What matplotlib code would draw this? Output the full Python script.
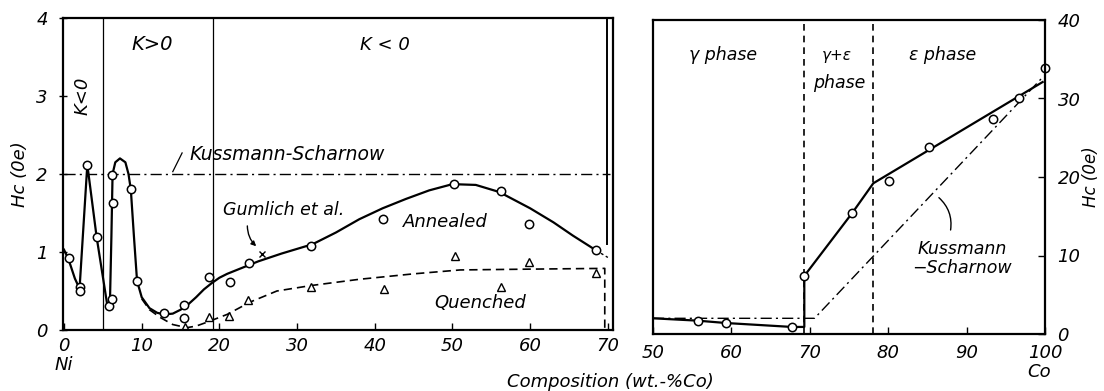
import matplotlib
matplotlib.use("Agg")
import matplotlib.pyplot as plt
from matplotlib.patches import FancyArrowPatch

# ---------------- data: left panel (Ni-Co, 0-70 wt.% Co) ----------------
annealed_co = [0.65, 2.05, 2.05, 3.0, 4.2, 5.8, 6.2, 6.2, 6.3, 8.6, 9.4, 12.9,
               15.5, 15.5, 18.7, 21.4, 23.8, 31.8, 41.1, 50.2, 56.2, 59.8, 68.5]
annealed_hc = [0.92, 0.55, 0.50, 2.12, 1.19, 0.31, 0.40, 1.99, 1.63, 1.81, 0.63, 0.22,
               0.32, 0.15, 0.68, 0.62, 0.86, 1.08, 1.42, 1.87, 1.78, 1.36, 1.02]

quenched_co = [15.6, 18.7, 21.3, 23.7, 31.8, 41.2, 50.3, 56.3, 59.8, 68.5]
quenched_hc = [0.04, 0.17, 0.18, 0.38, 0.55, 0.52, 0.95, 0.55, 0.87, 0.73]

gumlich_co = [25.5]
gumlich_hc = [0.98]

annealed_curve_co = [0.0, 0.6, 1.4, 2.0, 3.0, 4.2, 5.6, 5.9, 6.1, 6.25, 6.6, 7.2,
                     7.9, 8.3, 8.6, 9.0, 9.4, 10.0, 11.0, 12.0, 13.0, 14.0, 15.0,
                     16.0, 17.0, 18.0, 19.0, 20.0, 21.0, 22.0, 25.0, 28.0, 32.0,
                     35.0, 38.0, 41.0, 44.0, 47.0, 50.0, 53.0, 56.0, 60.0, 63.0,
                     65.5, 68.5]
annealed_curve_hc = [1.03, 0.9, 0.66, 0.53, 2.12, 1.19, 0.3, 0.3, 1.2, 2.0, 2.15, 2.2,
                     2.15, 2.0, 1.8, 1.2, 0.63, 0.42, 0.28, 0.22, 0.20, 0.21, 0.26,
                     0.33, 0.42, 0.52, 0.60, 0.67, 0.72, 0.76, 0.88, 0.98, 1.10,
                     1.25, 1.42, 1.56, 1.68, 1.79, 1.87, 1.86, 1.77, 1.56, 1.38,
                     1.21, 1.02]
annealed_tail_co = [68.5, 70.0]
annealed_tail_hc = [1.02, 0.93]

quenched_curve_co = [10.0, 11.0, 12.4, 14.0, 15.8, 17.0, 18.4, 21.0, 24.0, 27.4,
                     31.8, 38.0, 45.0, 51.0, 59.6, 69.6, 69.6]
quenched_curve_hc = [0.40, 0.26, 0.16, 0.07, 0.03, 0.05, 0.10, 0.20, 0.36, 0.50,
                     0.57, 0.65, 0.72, 0.77, 0.78, 0.79, 0.0]

ks_left_co = [0.0, 70.3]
ks_left_hc = [2.0, 2.0]

region_lines_left = [5.05, 19.15]
phase_edge_left = 69.9

# ---------------- data: right panel (50-100 wt.% Co) ----------------
right_co = [55.7, 59.3, 67.7, 69.3, 75.4, 80.1, 85.2, 93.4, 96.7, 100.0]
right_hc = [1.7, 1.4, 0.9, 7.4, 15.4, 19.5, 23.8, 27.4, 30.0, 33.9]

right_curve_co = [50.0, 55.7, 59.3, 67.7, 69.3, 69.3, 75.4, 78.1, 99.7]
right_curve_hc = [2.0, 1.7, 1.4, 0.9, 0.9, 7.4, 15.4, 19.2, 32.1]

ks_right_co = [50.0, 70.6, 99.6]
ks_right_hc = [2.0, 2.0, 32.6]

phase_bounds_right = [69.3, 78.1]

left_xticks = [0, 10, 20, 30, 40, 50, 60, 70]
left_yticks = [0, 1, 2, 3, 4]
right_xticks = [50, 60, 70, 80, 90, 100]
right_yticks = [0, 10, 20, 30, 40]

# ---------------- drawing ----------------
plt.rcParams["font.family"] = ["DejaVu Sans"]
plt.rcParams["font.style"] = "italic"

W, H = 1104, 391
fig = plt.figure(figsize=(W / 100, H / 100), dpi=100)


def box(x0, y0, x1, y1):
    return [x0 / W, 1 - y1 / H, (x1 - x0) / W, (y1 - y0) / H]


axL = fig.add_axes(box(63, 18, 613, 330))
axR = fig.add_axes(box(653, 20, 1045, 334))

LW = 1.6
TXT = dict(style="italic", color="black")

# left panel
axL.set_xlim(-0.13, 70.66)
axL.set_ylim(0, 4)
for x in region_lines_left:
    axL.axvline(x, color="black", lw=0.9)
axL.plot([phase_edge_left, phase_edge_left], [1.1, 4.0], color="black", lw=1.4)
axL.plot(ks_left_co, ks_left_hc, color="black", lw=1.0, dashes=(8, 3, 1.5, 3))
axL.plot(annealed_curve_co, annealed_curve_hc, color="black", lw=LW)
axL.plot(annealed_tail_co, annealed_tail_hc, color="black", lw=1.0, dashes=(2, 2))
axL.plot(quenched_curve_co, quenched_curve_hc, color="black", lw=1.2, dashes=(5, 3))
axL.plot(annealed_co, annealed_hc, "o", ms=6, mfc="white", mec="black", mew=1.1)
axL.plot(quenched_co, quenched_hc, "^", ms=6, mfc="white", mec="black", mew=1.0)
axL.plot(gumlich_co, gumlich_hc, "x", ms=4, color="black", mew=1.0)

axL.text(2.4, 3.0, "K<0", rotation=90, fontsize=13, ha="center", va="center", **TXT)
axL.text(11.4, 3.66, "K>0", fontsize=14, ha="center", va="center", **TXT)
axL.text(41.3, 3.66, "K < 0", fontsize=13, ha="center", va="center", **TXT)
axL.text(16.2, 2.25, "Kussmann-Scharnow", fontsize=13.5, ha="left", va="center", **TXT)
axL.plot([14.0, 15.2], [2.03, 2.27], color="black", lw=0.9)
axL.text(20.5, 1.54, "Gumlich et al.", fontsize=12.5, ha="left", va="center", **TXT)
axL.add_patch(FancyArrowPatch((23.6, 1.37), (25.0, 1.05),
                              connectionstyle="arc3,rad=0.25", arrowstyle="-|>",
                              mutation_scale=7, color="black", lw=1.0))
axL.text(43.6, 1.38, "Annealed", fontsize=13, ha="left", va="center", **TXT)
axL.text(47.6, 0.35, "Quenched", fontsize=13, ha="left", va="center", **TXT)
axL.text(0.0, -0.45, "Ni", fontsize=13, ha="center", va="center", clip_on=False, **TXT)

axL.set_xticks(left_xticks)
axL.set_yticks(left_yticks)
axL.tick_params(axis="x", direction="in", length=5, width=1.0, pad=5, labelsize=13)
axL.tick_params(axis="y", direction="inout", length=6, width=1.0, pad=8, labelsize=13)
axL.set_ylabel("Hc (0e)", fontsize=13, labelpad=5, **TXT)

# right panel
axR.set_xlim(50, 100)
axR.set_ylim(0, 40)
for x in phase_bounds_right:
    axR.axvline(x, color="black", lw=1.2, dashes=(4, 3))
axR.plot(ks_right_co, ks_right_hc, color="black", lw=1.0, dashes=(8, 3, 1.5, 3))
axR.plot(right_curve_co, right_curve_hc, color="black", lw=LW)
axR.plot(right_co, right_hc, "o", ms=6, mfc="white", mec="black", mew=1.1, clip_on=False)

axR.text(59.0, 35.6, "γ phase", fontsize=12.5, ha="center", va="center", **TXT)
axR.text(73.5, 35.5, "γ+ε", fontsize=11, ha="center", va="center", **TXT)
axR.text(73.7, 32.0, "phase", fontsize=12.5, ha="center", va="center", **TXT)
axR.text(87.0, 35.6, "ε phase", fontsize=12.5, ha="center", va="center", **TXT)
axR.text(89.4, 9.6, "Kussmann\n−Scharnow", fontsize=12.5, ha="center", va="center",
         linespacing=1.05, **TXT)
axR.add_patch(FancyArrowPatch((87.9, 12.9), (86.2, 17.6),
                              connectionstyle="arc3,rad=0.3", arrowstyle="-",
                              color="black", lw=1.0))
axR.text(99.3, -4.8, "Co", fontsize=13, ha="center", va="center", clip_on=False, **TXT)

axR.set_xticks(right_xticks)
axR.set_yticks(right_yticks)
axR.yaxis.tick_right()
axR.yaxis.set_label_position("right")
axR.tick_params(axis="x", direction="in", length=5, width=1.0, pad=7, labelsize=13)
axR.tick_params(axis="y", direction="in", length=5, width=1.0, pad=9, labelsize=13)
axR.set_ylabel("Hc (0e)", fontsize=12, labelpad=1, rotation=90, **TXT)

for ax in (axL, axR):
    for sp in ax.spines.values():
        sp.set_linewidth(1.6)
        sp.set_color("black")
    for lab in ax.get_xticklabels() + ax.get_yticklabels():
        lab.set_style("italic")

fig.text(610 / W, 1 - 382 / H, "Composition (wt.-%Co)", fontsize=13, ha="center",
         va="center", **TXT)

fig.savefig("out.png", dpi=100, facecolor="white")
